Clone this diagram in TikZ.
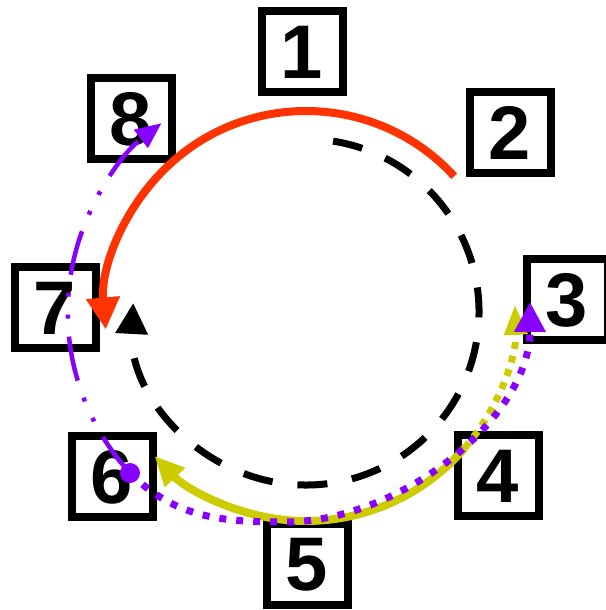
\documentclass[tikz,border=0pt]{standalone}
\usepackage{fontspec}
\setmainfont{Liberation Sans}
\usetikzlibrary{arrows.meta}

\definecolor{ringred}{RGB}{255,51,0}
\definecolor{ringyellow}{RGB}{204,204,0}
\definecolor{ringpurple}{RGB}{136,0,255}

\begin{document}
\begin{tikzpicture}[
    x=1pt, y=1pt,
    >={Triangle[length=30pt,width=30pt]},
    box/.style={draw, line width=8pt, fill=white, minimum size=81pt, inner sep=0pt,
        font=\fontsize{76}{76}\selectfont\bfseries},
    dashring/.style={line width=7pt, dash pattern=on 30pt off 25pt},
    redline/.style={ringred, line width=8pt},
    yellowline/.style={ringyellow, line width=8pt},
    yellowdots/.style={ringyellow, line width=7pt, dash pattern=on 7pt off 7pt},
    purpledots/.style={ringpurple, line width=7pt, dash pattern=on 7pt off 10pt},
    purpledashdot/.style={ringpurple, line width=4.5pt,
        dash pattern=on 45pt off 18pt on 4pt off 18pt on 4pt off 18pt}]
]
    \useasboundingbox (0,0) rectangle (605,610);

    \coordinate (O) at (306,298);

    \node[box]	(One)	at (302,558)	{1};
    \node[box]	(Two)	at (510,477)	{2};
    \node[box]	(Three)	at (567,310)	{3};
    \node[box]	(Four)	at (498,134)	{4};
    \node[box]	(Five)	at (307,45)	{5};
    \node[box]	(Six)	at (112,133)	{6};
    \node[box]	(Seven)	at (55,302)	{7};
    \node[box]	(Eight)	at (131,491)	{8};

    \node[circle, fill=ringpurple, minimum size=20pt, inner sep=0pt] (Dot) at (130,137) {};
    \coordinate (Bottom) at (285,88);
    \coordinate (TipThree) at (530,308);

    % the ring itself
    \draw[dashring, ->, >={Triangle[length=31pt,width=31pt]}]
        ([shift={(81:173)}]O) arc[start angle=81, end angle=-183, radius=173];

    \draw[redline, ->, >={Triangle[length=32pt,width=32pt]}]
        ([shift={(42.5:201)}]O) arc[start angle=42.5, end angle=185, radius=201];

    \draw[yellowline, ->, >={Triangle[length=30pt,width=26pt]}]
        ([shift={(-40.6:209)}]O) arc[start angle=-40.6, end angle=-136.5, radius=209];
    \draw[yellowdots, ->, >={Triangle[length=30pt,width=22pt]}]
        ([shift={(-40.6:209)}]O) arc[start angle=-40.6, end angle=2, radius=209];

    \draw[purpledots, ->]
        (Dot.center) to[out=-45, in=180] (Bottom) to[out=0, in=-90, looseness=0.9] (TipThree);
    \draw[purpledashdot, ->, >={Triangle[length=26pt,width=22pt]}]
        (Dot.center) arc[start angle=222.4, end angle=127.3, radius=238];
\end{tikzpicture}
\end{document}
